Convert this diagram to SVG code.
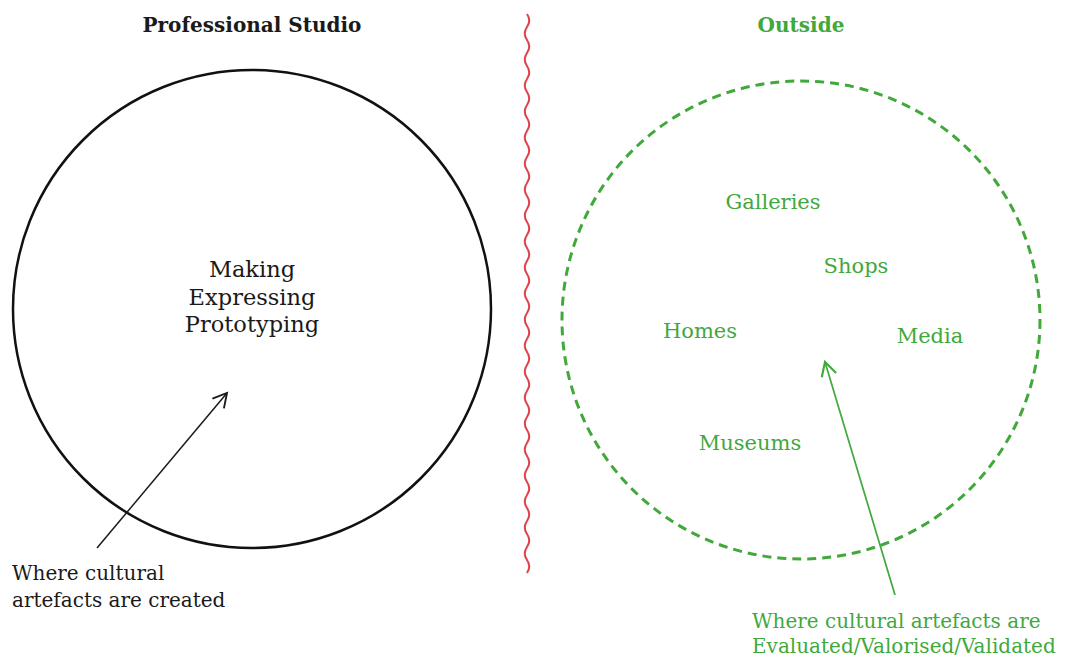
<svg xmlns="http://www.w3.org/2000/svg" width="1080" height="659" viewBox="0 0 1080 659">
<defs>
<style>
text{font-family:"DejaVu Serif","Liberation Serif",serif;font-size:20px}
.b{fill:#1a1a1a}
.g{fill:#41a83b}
.t{font-weight:bold}
.m{text-anchor:middle}
.c{font-size:22.5px}
.p{font-size:21px}
</style>
<marker id="ab" markerUnits="userSpaceOnUse" markerWidth="20" markerHeight="20" refX="0" refY="0" viewBox="-12 -8 14 16" orient="auto">
<path d="M-11,-6 L0,0 L-11,6" fill="none" stroke="#1a1a1a" stroke-width="1.5"/>
</marker>
<marker id="ag" markerUnits="userSpaceOnUse" markerWidth="20" markerHeight="20" refX="0" refY="0" viewBox="-12 -8 14 16" orient="auto">
<path d="M-11,-6 L0,0 L-11,6" fill="none" stroke="#41a83b" stroke-width="1.7"/>
</marker>
</defs>
<rect width="1080" height="659" fill="#fff"/>
<g id="divider">
<path d="M527,14 q4.5,6.5 0,13 t0,13 t0,13 t0,13 t0,13 t0,13 t0,13 t0,13 t0,13 t0,13 t0,13 t0,13 t0,13 t0,13 t0,13 t0,13 t0,13 t0,13 t0,13 t0,13 t0,13 t0,13 t0,13 t0,13 t0,13 t0,13 t0,13 t0,13 t0,13 t0,13 t0,13 t0,13 t0,13 t0,13 t0,13 t0,13 t0,13 t0,13 t0,13 t0,13 t0,13 t0,13 t0,13" fill="none" stroke="#e0424c" stroke-width="2"/>
</g>
<g id="studio">
<circle cx="252" cy="309" r="239" fill="none" stroke="#111" stroke-width="2.5"/>
<text class="b t m" x="252" y="32">Professional Studio</text>
<text class="b m c" x="252" y="277">Making</text>
<text class="b m c" x="252" y="305">Expressing</text>
<text class="b m c" x="252" y="332">Prototyping</text>
</g>
<g id="outside">
<circle cx="801" cy="320" r="239" fill="none" stroke="#41a83b" stroke-width="3" stroke-dasharray="9,6"/>
<text class="g t m" x="801" y="32">Outside</text>
<text class="g m p" x="773" y="209">Galleries</text>
<text class="g m p" x="856" y="273">Shops</text>
<text class="g m p" x="700" y="338">Homes</text>
<text class="g m p" x="930" y="343">Media</text>
<text class="g m p" x="750" y="450">Museums</text>
</g>
<g id="label-created">
<text class="b" x="12" y="580">Where cultural</text>
<text class="b" x="12" y="607">artefacts are created</text>
</g>
<g id="label-evaluated">
<text class="g" x="752" y="628">Where cultural artefacts are</text>
<text class="g" x="752" y="653">Evaluated/Valorised/Validated</text>
</g>
<g id="connectors">
<line x1="97" y1="548" x2="227" y2="393" stroke="#1a1a1a" stroke-width="1.5" marker-end="url(#ab)"/>
<line x1="895" y1="595" x2="825" y2="362" stroke="#41a83b" stroke-width="1.7" marker-end="url(#ag)"/>
</g>
</svg>
